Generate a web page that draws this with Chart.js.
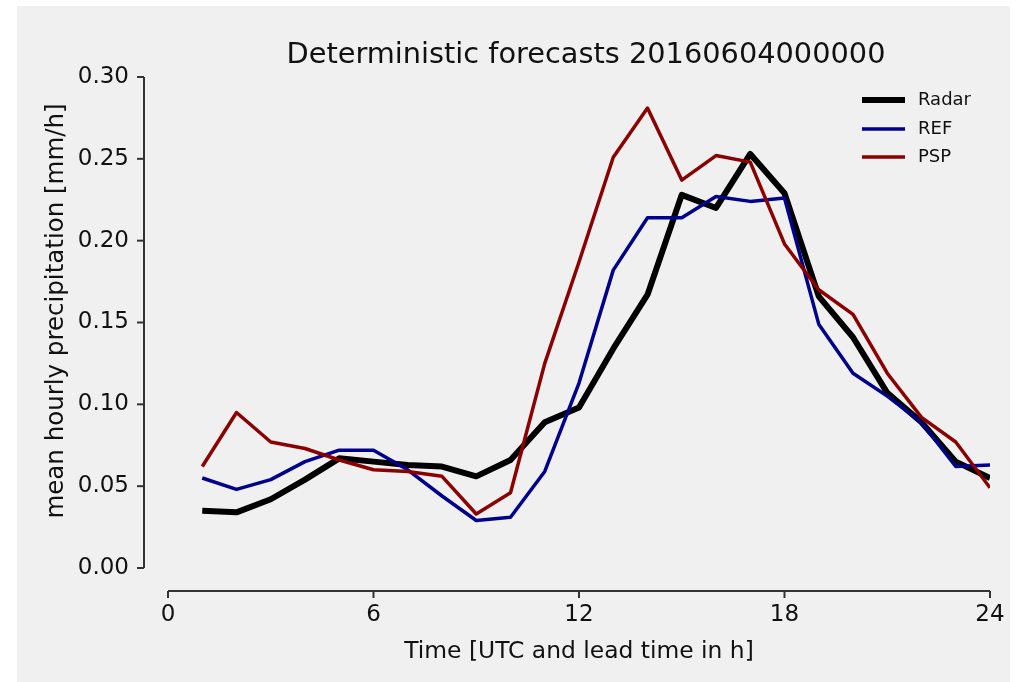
<!DOCTYPE html>
<html>
<head>
<meta charset="utf-8">
<script src="https://cdn.jsdelivr.net/npm/chart.js@4/dist/chart.umd.min.js"></script>
<style>
  html, body { margin: 0; padding: 0; background: #ffffff; }
  #wrap { width: 1018px; height: 682px; position: relative; }
</style>
</head>
<body>
<div id="wrap"><canvas id="c" width="1018" height="682"></canvas></div>
<script>
// Lead times (h) and mean hourly precipitation (mm/h)
const hours = [1, 2, 3, 4, 5, 6, 7, 8, 9, 10, 11, 12, 13, 14, 15, 16, 17, 18, 19, 20, 21, 22, 23, 24];
const radar = [0.035, 0.034, 0.042, 0.054, 0.067, 0.065, 0.063, 0.062, 0.056, 0.066, 0.089, 0.098,
               0.134, 0.167, 0.228, 0.220, 0.253, 0.229, 0.166, 0.141, 0.107, 0.089, 0.065, 0.055];
const ref   = [0.055, 0.048, 0.054, 0.065, 0.072, 0.072, 0.060, 0.044, 0.029, 0.031, 0.059, 0.113,
               0.182, 0.214, 0.214, 0.227, 0.224, 0.226, 0.149, 0.119, 0.105, 0.089, 0.062, 0.063];
const psp   = [0.062, 0.095, 0.077, 0.073, 0.066, 0.060, 0.059, 0.056, 0.033, 0.046, 0.125, 0.187,
               0.251, 0.281, 0.237, 0.252, 0.248, 0.198, 0.170, 0.155, 0.119, 0.092, 0.077, 0.049];
const xTicks = [0, 6, 12, 18, 24];
const yTicks = [0.00, 0.05, 0.10, 0.15, 0.20, 0.25, 0.30];

const titleText = 'Deterministic forecasts 20160604000000';
const xLabel = 'Time [UTC and lead time in h]';
const yLabel = 'mean hourly precipitation [mm/h]';

const FONT = '"DejaVu Sans", sans-serif';
const pts = arr => hours.map((h, i) => ({ x: h, y: arr[i] }));

// Offset spines, tick marks, title, axis labels and legend
const decor = {
  id: 'decor',
  beforeDraw(chart) {
    const ctx = chart.ctx;
    ctx.save();
    ctx.fillStyle = '#f0f0f0';
    ctx.fillRect(17, 6, 993, 676);
    ctx.restore();
  },
  afterDraw(chart) {
    const ctx = chart.ctx;
    const xs = chart.scales.x, ys = chart.scales.y;
    const area = chart.chartArea;
    const spineX = area.left - 24;
    const spineY = area.bottom + 23;
    ctx.save();
    ctx.strokeStyle = '#333333';
    ctx.lineWidth = 2;
    ctx.lineCap = 'butt';
    // y spine
    ctx.beginPath();
    ctx.moveTo(spineX, ys.getPixelForValue(yTicks[yTicks.length - 1]));
    ctx.lineTo(spineX, ys.getPixelForValue(yTicks[0]));
    ctx.stroke();
    yTicks.forEach(v => {
      const y = ys.getPixelForValue(v);
      ctx.beginPath(); ctx.moveTo(spineX - 7, y); ctx.lineTo(spineX, y); ctx.stroke();
    });
    // x spine
    ctx.beginPath();
    ctx.moveTo(xs.getPixelForValue(xTicks[0]), spineY);
    ctx.lineTo(xs.getPixelForValue(xTicks[xTicks.length - 1]), spineY);
    ctx.stroke();
    xTicks.forEach(v => {
      const x = xs.getPixelForValue(v);
      ctx.beginPath(); ctx.moveTo(x, spineY); ctx.lineTo(x, spineY + 7); ctx.stroke();
    });

    ctx.fillStyle = '#111111';
    // tick labels
    ctx.font = '23px ' + FONT;
    ctx.textAlign = 'right'; ctx.textBaseline = 'middle';
    yTicks.forEach(v => ctx.fillText(v.toFixed(2), spineX - 15, ys.getPixelForValue(v)));
    ctx.textAlign = 'center'; ctx.textBaseline = 'top';
    xTicks.forEach(v => ctx.fillText(String(v), xs.getPixelForValue(v), spineY + 13));

    // title
    ctx.font = '28.8px ' + FONT;
    ctx.textAlign = 'center'; ctx.textBaseline = 'alphabetic';
    ctx.fillText(titleText, (area.left + area.right) / 2 + 7, 63);

    // axis labels
    ctx.font = '23.4px ' + FONT;
    ctx.textBaseline = 'alphabetic';
    ctx.fillText(xLabel, (area.left + area.right) / 2, 658);
    ctx.save();
    ctx.font = '24.5px ' + FONT;
    ctx.translate(63, 311);
    ctx.rotate(-Math.PI / 2);
    ctx.fillText(yLabel, 0, 0);
    ctx.restore();

    // legend
    ctx.font = '18px ' + FONT;
    ctx.textAlign = 'left'; ctx.textBaseline = 'middle';
    const rows = [100, 129, 157];
    chart.data.datasets.forEach((ds, i) => {
      ctx.strokeStyle = ds.borderColor;
      ctx.lineWidth = ds.borderWidth;
      ctx.beginPath(); ctx.moveTo(862, rows[i]); ctx.lineTo(905, rows[i]); ctx.stroke();
      ctx.fillStyle = '#111111';
      ctx.fillText(ds.label, 918, rows[i]);
    });
    ctx.restore();
  }
};

new Chart(document.getElementById('c'), {
  type: 'line',
  data: {
    datasets: [
      { label: 'Radar', data: pts(radar), borderColor: '#000000', borderWidth: 6, order: 3 },
      { label: 'REF',   data: pts(ref),   borderColor: '#00008b', borderWidth: 3.5, order: 2 },
      { label: 'PSP',   data: pts(psp),   borderColor: '#8b0000', borderWidth: 3.5, order: 1 }
    ]
  },
  options: {
    responsive: false,
    animation: false,
    devicePixelRatio: 1,
    layout: { padding: { left: 0, top: 77, right: 28, bottom: 0 } },
    elements: {
      line: { tension: 0, borderJoinStyle: 'round', borderCapStyle: 'butt', fill: false },
      point: { radius: 0, hoverRadius: 0 }
    },
    plugins: { legend: { display: false }, title: { display: false }, tooltip: { enabled: false } },
    scales: {
      x: {
        type: 'linear', min: 0, max: 24,
        grid: { display: false, drawTicks: false },
        border: { display: false },
        ticks: { display: false, stepSize: 6 },
        afterFit(scale) { scale.height = 114; }
      },
      y: {
        min: 0, max: 0.30,
        grid: { display: false, drawTicks: false },
        border: { display: false },
        ticks: { display: false, stepSize: 0.05 },
        afterFit(scale) { scale.width = 168; }
      }
    }
  },
  plugins: [decor]
});
</script>
</body>
</html>
